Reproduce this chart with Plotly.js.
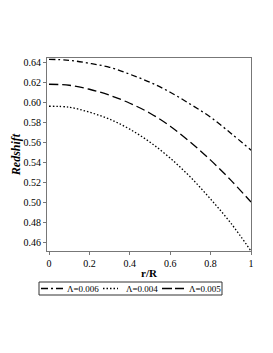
<!DOCTYPE html>
<html><head><meta charset="utf-8">
<script src="https://cdn.plot.ly/plotly-3.0.1.min.js"></script>
<style>html,body{margin:0;padding:0;background:#fff}#c{width:273px;height:353px}</style>
</head><body><div id="c"></div>
<script>
const r = [0, 0.1, 0.2, 0.3, 0.4, 0.5, 0.6, 0.7, 0.8, 0.9, 1.0];
const z006 = [0.643, 0.642, 0.639, 0.635, 0.628, 0.620, 0.610, 0.598, 0.585, 0.569, 0.552];
const z004 = [0.596, 0.595, 0.590, 0.583, 0.573, 0.560, 0.544, 0.525, 0.503, 0.479, 0.451];
const z005 = [0.618, 0.617, 0.613, 0.607, 0.599, 0.589, 0.576, 0.560, 0.542, 0.522, 0.500];
const names = ['\u039B=0.006', '\u039B=0.004', '\u039B=0.005'];
const dashes = ['6px,3px,2px,3px', '1.5px,2px', '9px,4px'];
const legendDashes = ['7px,3px,2px,3px', '1.5px,2px', '10px,3px'];
const xticks = [0, 0.2, 0.4, 0.6, 0.8, 1];
const yticks = [0.46, 0.48, 0.50, 0.52, 0.54, 0.56, 0.58, 0.60, 0.62, 0.64];

const series = [z006, z004, z005];
const data = series.map((y, i) => ({x: r, y: y, name: names[i], type: 'scatter', mode: 'lines',
  showlegend: false, line: {color: '#000', width: 1.3, dash: dashes[i], shape: 'spline'}}));

const font = {family: 'Liberation Serif, Times New Roman, serif', size: 10, color: '#000'};
const L = 47, T = 58, W = 204, H = 193;
const px = v => (v - L) / W, py = v => (T + H - v) / H; // pixel -> paper
const legY = py(288.5);
const symX = [[41, 64], [103, 118], [162, 184]];
const txtX = [66, 125, 188];
const shapes = [{type: 'rect', xref: 'paper', yref: 'paper', x0: px(39), x1: px(222), y0: py(295), y1: py(282),
  line: {color: '#333', width: 1}, fillcolor: 'rgba(0,0,0,0)'}];
const annotations = [];
names.forEach((n, i) => {
  shapes.push({type: 'line', xref: 'paper', yref: 'paper', x0: px(symX[i][0]), x1: px(symX[i][1]), y0: legY, y1: legY,
    line: {color: '#000', width: 1.3, dash: legendDashes[i]}});
  annotations.push({xref: 'paper', yref: 'paper', x: px(txtX[i]), y: legY, xanchor: 'left', yanchor: 'middle',
    text: n, showarrow: false, borderpad: 0, font: {family: font.family, size: 9, color: '#000'}});
});

const layout = {
  width: 273, height: 353, margin: {l: L, r: 273 - L - W, t: T, b: 353 - T - H},
  paper_bgcolor: '#fff', plot_bgcolor: '#fff', font: font, showlegend: false,
  shapes: shapes, annotations: annotations,
  xaxis: {range: [-0.01, 1.0], tickvals: xticks, ticktext: xticks.map(String), showgrid: false, zeroline: false,
    showline: true, mirror: true, linecolor: '#777', linewidth: 1, ticks: 'outside', ticklen: 3, tickcolor: '#777',
    title: {text: '<b>r/R</b>', font: {family: font.family, size: 11}, standoff: 1}},
  yaxis: {range: [0.451, 0.6443], tickvals: yticks, ticktext: yticks.map(v => v.toFixed(2)), showgrid: false, zeroline: false,
    showline: true, mirror: true, linecolor: '#777', linewidth: 1, ticks: 'outside', ticklen: 3, tickcolor: '#777',
    title: {text: '<b><i>Redshift</i></b>', font: {family: font.family, size: 12}, standoff: 0}}
};
Plotly.newPlot('c', data, layout, {displayModeBar: false, staticPlot: true});
</script></body></html>
